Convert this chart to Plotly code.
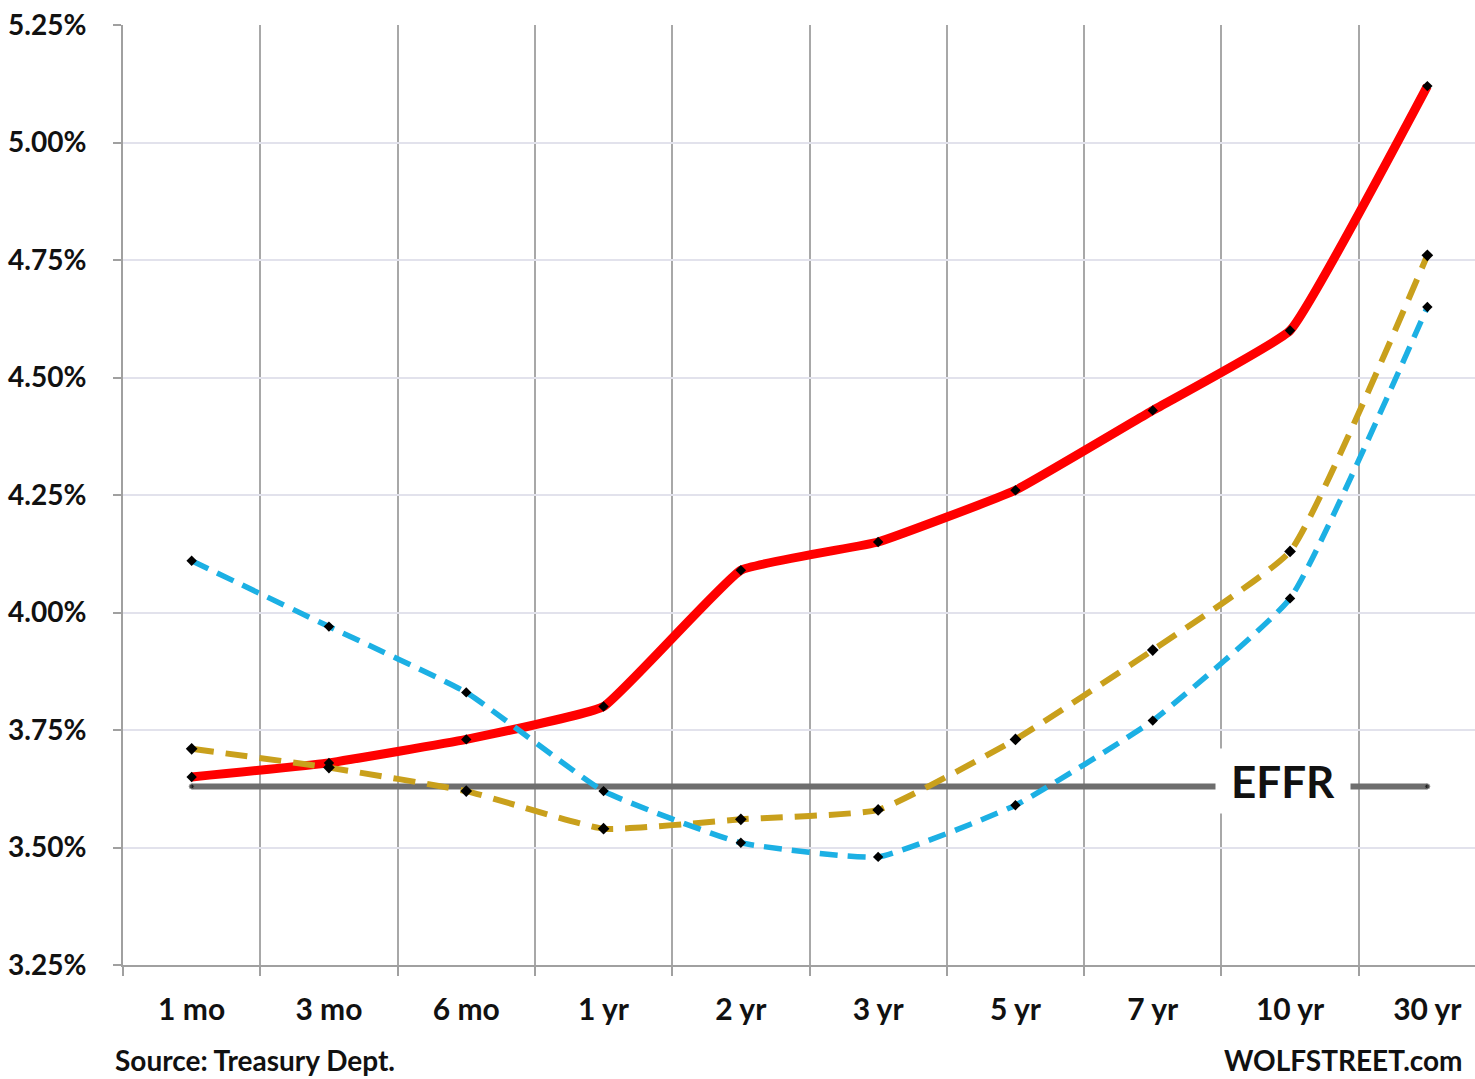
import plotly.graph_objects as go

categories = ["1 mo", "3 mo", "6 mo", "1 yr", "2 yr", "3 yr", "5 yr", "7 yr", "10 yr", "30 yr"]
red_vals = [3.65, 3.68, 3.73, 3.80, 4.09, 4.15, 4.26, 4.43, 4.60, 5.12]
gold_vals = [3.71, 3.67, 3.62, 3.54, 3.56, 3.58, 3.73, 3.92, 4.13, 4.76]
blue_vals = [4.11, 3.97, 3.83, 3.62, 3.51, 3.48, 3.59, 3.77, 4.03, 4.65]
effr_val = 3.63
y_ticks = [3.25, 3.50, 3.75, 4.00, 4.25, 4.50, 4.75, 5.00, 5.25]
y_ticktext = [f"{v:.2f}%" for v in y_ticks]

FONT = "Lato"

fig = go.Figure()

fig.add_trace(go.Scatter(
    x=categories, y=[effr_val] * len(categories), mode="lines+markers",
    line=dict(color="#6e6e6e", width=6),
    marker=dict(size=[5] + [0] * (len(categories) - 2) + [5], color="black"),
    hoverinfo="skip", showlegend=False))

fig.add_trace(go.Scatter(
    x=categories, y=red_vals, mode="lines+markers",
    line=dict(color="#ff0000", width=9, shape="spline", smoothing=0.3),
    marker=dict(symbol="diamond", size=8, color="black"),
    showlegend=False))

fig.add_trace(go.Scatter(
    x=categories, y=gold_vals, mode="lines+markers",
    line=dict(color="#c9a01c", width=6, dash="22px,12px", shape="spline", smoothing=0.4),
    marker=dict(symbol="diamond", size=9, color="black"),
    showlegend=False))

fig.add_trace(go.Scatter(
    x=categories, y=blue_vals, mode="lines+markers",
    line=dict(color="#1cb0e4", width=5.5, dash="18px,10px", shape="spline", smoothing=0.4),
    marker=dict(symbol="diamond", size=8, color="black"),
    showlegend=False))

fig.add_annotation(
    x=categories[8], y=effr_val, xref="x", yref="y", xshift=-7, yshift=5,
    text="<b>EFFR</b>", showarrow=False,
    font=dict(family=FONT, size=44, color="#111111"),
    bgcolor="white", width=130, height=60, borderpad=2)

fig.add_annotation(
    x=-0.0074, y=-0.101, xref="paper", yref="paper", xanchor="left", yanchor="middle",
    text="<b>Source: Treasury Dept.</b>", showarrow=False,
    font=dict(family=FONT, size=28, color="#111111"))
fig.add_annotation(
    x=0.9926, y=-0.101, xref="paper", yref="paper", xanchor="right", yanchor="middle",
    text="<b>WOLFSTREET.com</b>", showarrow=False,
    font=dict(family=FONT, size=28, color="#111111"))

fig.update_layout(
    width=1475, height=1079,
    margin=dict(l=123, r=0, t=25, b=114),
    paper_bgcolor="white", plot_bgcolor="white",
    font=dict(family=FONT, color="#111111"),
    xaxis=dict(
        type="category", range=[-0.5, 9.347], tickson="boundaries",
        showgrid=True, gridcolor="#a8a8a8", gridwidth=1.5,
        ticks="outside", ticklen=9, tickcolor="#a0a0a0", tickwidth=1.5,
        showline=True, linecolor="#a0a0a0", linewidth=2,
        tickfont=dict(family=FONT, size=30, weight="bold", color="#111111"),
        ticklabelstandoff=17, zeroline=False, fixedrange=True),
    yaxis=dict(
        range=[3.25, 5.25], tickvals=y_ticks, ticktext=y_ticktext,
        showgrid=True, gridcolor="#e2e2ec", gridwidth=1.5,
        ticks="outside", ticklen=8, tickcolor="#a0a0a0", tickwidth=1.5,
        showline=True, linecolor="#a0a0a0", linewidth=2,
        tickfont=dict(family=FONT, size=28, weight="bold", color="#111111"),
        ticklabelstandoff=21, zeroline=False, fixedrange=True),
)

fig.write_html("out.html")
